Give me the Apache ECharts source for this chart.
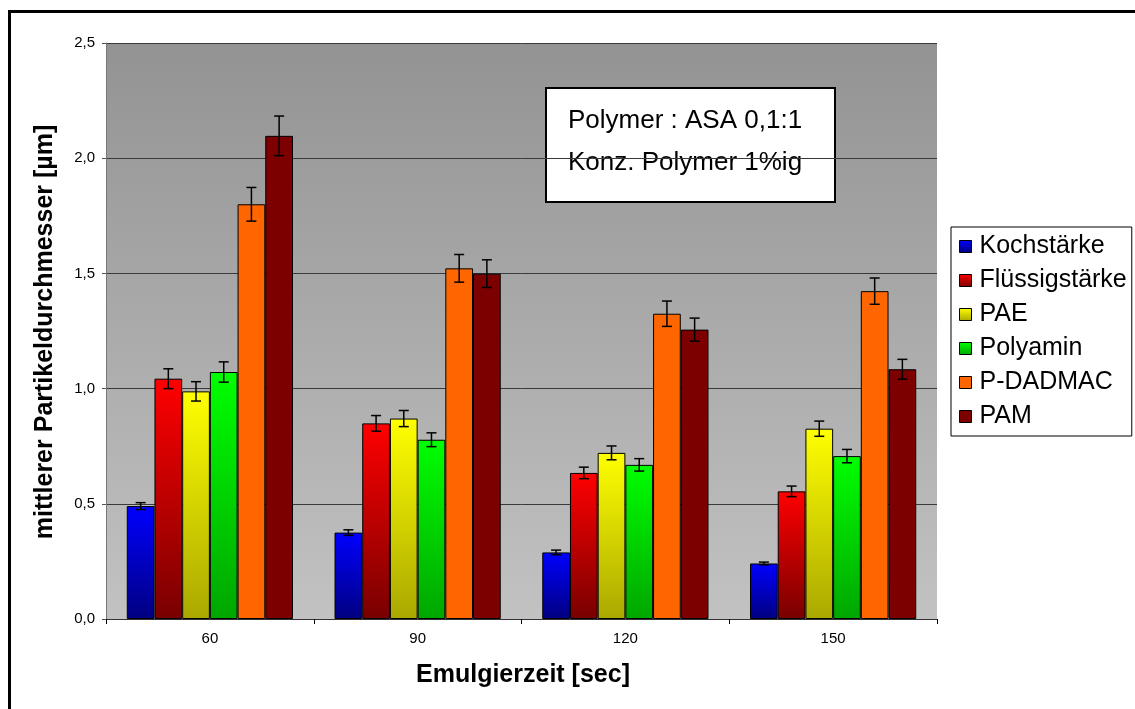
<!DOCTYPE html>
<html>
<head>
<meta charset="utf-8">
<script src="https://cdn.jsdelivr.net/npm/echarts@6/dist/echarts.min.js"></script>
<style>
  html, body { margin: 0; padding: 0; background: #ffffff; }
  #chart { width: 1135px; height: 709px; }
</style>
</head>
<body>
<div id="chart"></div>
<script>
// ---- data ----
const categories = ['60', '90', '120', '150'];
const seriesNames = ['Kochstärke', 'Flüssigstärke', 'PAE', 'Polyamin', 'P-DADMAC', 'PAM'];
const kochstaerke    = [0.490, 0.375, 0.289, 0.241];
const fluessigstaerke = [1.043, 0.849, 0.634, 0.554];
const pae            = [0.988, 0.870, 0.721, 0.826];
const polyamin       = [1.072, 0.778, 0.669, 0.707];
const pdadmac        = [1.800, 1.522, 1.325, 1.423];
const pam            = [2.097, 1.499, 1.256, 1.084];
const kochErr        = [0.015, 0.012, 0.010, 0.006];
const fluessigErr    = [0.043, 0.034, 0.025, 0.023];
const paeErr         = [0.042, 0.035, 0.030, 0.033];
const polyaminErr    = [0.044, 0.030, 0.027, 0.029];
const pdadmacErr     = [0.073, 0.060, 0.055, 0.057];
const pamErr         = [0.086, 0.060, 0.050, 0.043];
const yTickLabels = ['0,0', '0,5', '1,0', '1,5', '2,0', '2,5'];
const xAxisTitle = 'Emulgierzeit [sec]';
const yAxisTitle = 'mittlerer Partikeldurchmesser [µm]';
const noteLines = ['Polymer : ASA 0,1:1', 'Konz. Polymer 1%ig'];

const values = [kochstaerke, fluessigstaerke, pae, polyamin, pdadmac, pam];
const errors = [kochErr, fluessigErr, paeErr, polyaminErr, pdadmacErr, pamErr];

function grad(top, bottom) {
  return new echarts.graphic.LinearGradient(0, 0, 0, 1, [
    { offset: 0, color: top }, { offset: 1, color: bottom }
  ]);
}
const fills = [
  grad('#0000ff', '#000080'),
  grad('#ff0000', '#780000'),
  grad('#ffff00', '#aaa800'),
  grad('#00ff00', '#00a600'),
  '#ff6600',
  '#7c0000'
];

const FONT = '"Liberation Sans", Arial, sans-serif';
const nSeries = seriesNames.length;
const catGapRatio = 0.2;

const series = [];
seriesNames.forEach((name, i) => {
  series.push({
    name: name,
    type: 'bar',
    data: values[i],
    barGap: '0%',
    barCategoryGap: '20%',
    itemStyle: { color: fills[i], borderColor: '#000', borderWidth: 1 },
    emphasis: { disabled: true },
    z: 2
  });
});
seriesNames.forEach((name, i) => {
  series.push({
    name: 'err ' + name,
    type: 'custom',
    z: 5,
    silent: true,
    encode: { x: 0, y: 1 },
    data: categories.map((c, j) => [j, values[i][j], errors[i][j]]),
    renderItem: function (params, api) {
      const j = api.value(0), v = api.value(1), e = api.value(2);
      const bandW = api.size([1, 0])[0];
      const barW = bandW * (1 - catGapRatio) / nSeries;
      const cx = api.coord([j, 0])[0] + (i - (nSeries - 1) / 2) * barW;
      const yT = api.coord([j, v + e])[1];
      const yB = api.coord([j, v - e])[1];
      const hw = 5;
      const st = { stroke: '#000', lineWidth: 1.5 };
      return {
        type: 'group',
        children: [
          { type: 'line', shape: { x1: cx, y1: yT, x2: cx, y2: yB }, style: st },
          { type: 'line', shape: { x1: cx - hw, y1: yT, x2: cx + hw, y2: yT }, style: st },
          { type: 'line', shape: { x1: cx - hw, y1: yB, x2: cx + hw, y2: yB }, style: st }
        ]
      };
    }
  });
});

const chart = echarts.init(document.getElementById('chart'), null, { renderer: 'canvas' });
chart.setOption({
  animation: false,
  backgroundColor: '#ffffff',
  textStyle: { fontFamily: FONT, color: '#000' },
  grid: {
    left: 106, top: 43, right: 198, bottom: 90,
    show: true,
    borderWidth: 0,
    backgroundColor: new echarts.graphic.LinearGradient(0, 0, 0, 1, [
      { offset: 0, color: '#939393' }, { offset: 1, color: '#c2c2c2' }
    ])
  },
  legend: {
    data: seriesNames,
    orient: 'vertical',
    left: 951,
    top: 227,
    padding: [7, 5, 7, 8],
    itemWidth: 12,
    itemHeight: 12,
    itemGap: 9,
    icon: 'rect',
    backgroundColor: '#ffffff',
    borderColor: '#000',
    borderWidth: 1,
    itemStyle: { borderColor: '#000', borderWidth: 1 },
    textStyle: { fontFamily: FONT, fontSize: 25, color: '#000', lineHeight: 24, padding: [0, 0, 0, 3] },
    selectedMode: false
  },
  xAxis: {
    type: 'category',
    data: categories,
    axisLine: { lineStyle: { color: '#333', width: 1 } },
    axisTick: { show: true, length: 5, lineStyle: { color: '#000' } },
    axisLabel: { fontFamily: FONT, fontSize: 15, color: '#000', margin: 12 },
    splitLine: { show: false }
  },
  yAxis: {
    type: 'value',
    min: 0, max: 2.5, interval: 0.5,
    axisLine: { show: true, lineStyle: { color: '#777', width: 1 } },
    axisTick: { show: true, length: 4, lineStyle: { color: '#555' } },
    axisLabel: {
      fontFamily: FONT, fontSize: 15, color: '#000', margin: 11,
      formatter: function (v) { return yTickLabels[Math.round(v / 0.5)]; }
    },
    splitLine: { show: true, lineStyle: { color: '#3a3a3a', width: 1 } }
  },
  graphic: [
    {
      type: 'rect', z: 100, silent: true,
      shape: { x: 9.5, y: 11.5, width: 1300, height: 900 },
      style: { fill: 'none', stroke: '#000', lineWidth: 3 }
    },
    {
      type: 'text', z: 100, x: 523, y: 675,
      style: { text: xAxisTitle, font: 'bold 25px ' + FONT, fill: '#000', align: 'center', verticalAlign: 'middle' }
    },
    {
      type: 'text', z: 100, x: 45, y: 332, rotation: Math.PI / 2,
      style: { text: yAxisTitle, font: 'bold 25px ' + FONT, fill: '#000', align: 'center', verticalAlign: 'middle' }
    },
    {
      type: 'group', z: 100,
      children: [
        { type: 'rect', shape: { x: 546, y: 88, width: 289, height: 114 },
          style: { fill: '#ffffff', stroke: '#000', lineWidth: 2 } },
        { type: 'text', x: 568, y: 121,
          style: { text: noteLines[0], font: '26px ' + FONT, fill: '#000', align: 'left', verticalAlign: 'middle' } },
        { type: 'text', x: 568, y: 163,
          style: { text: noteLines[1], font: '26px ' + FONT, fill: '#000', align: 'left', verticalAlign: 'middle' } }
      ]
    }
  ],
  series: series
});
</script>
</body>
</html>
